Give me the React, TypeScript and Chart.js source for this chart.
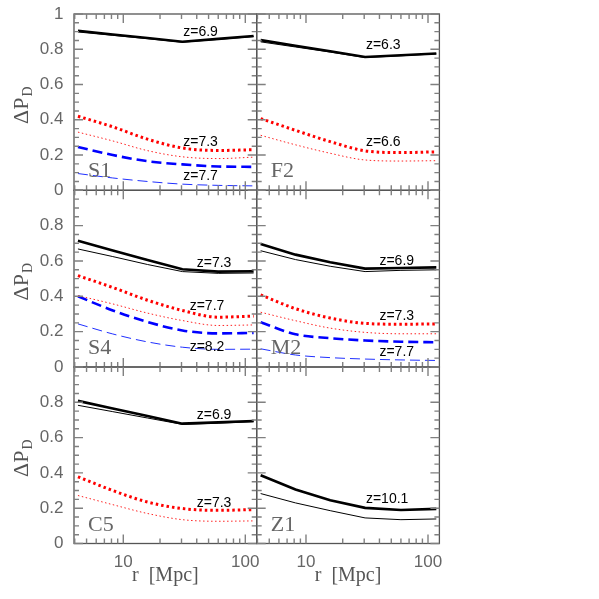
import React, { useEffect, useRef } from "react";
import { Chart, registerables } from "chart.js";
Chart.register(...registerables);

// ---------- data ----------
const R = [4.25, 8.2, 15.8, 30.5, 60, 117];
const X_MIN = 3.945;
const X_MAX = 124;
const X_TICK_LABELS = [10, 100];
const X_MINOR = [4, 5, 6, 7, 8, 9, 20, 30, 40, 50, 60, 70, 80, 90];
const X_MAJOR = [10, 100];
const Y_TICKS = [0, 0.2, 0.4, 0.6, 0.8, 1];

const S1_thickSolid = [0.905, 0.884, 0.864, 0.843, 0.859, 0.875];
const S1_thinSolid = [0.898, 0.879, 0.86, 0.84, 0.856, 0.872];
const S1_thickDot = [0.42, 0.36, 0.29, 0.24, 0.226, 0.23];
const S1_thinDot = [0.33, 0.28, 0.225, 0.19, 0.18, 0.188];
const S1_thickDash = [0.246, 0.2, 0.165, 0.147, 0.135, 0.133];
const S1_thinDash = [0.095, 0.07, 0.05, 0.035, 0.028, 0.025];

const F2_thickSolid = [0.852, 0.82, 0.789, 0.756, 0.766, 0.776];
const F2_thinSolid = [0.842, 0.813, 0.784, 0.753, 0.763, 0.774];
const F2_thickDot = [0.407, 0.34, 0.276, 0.224, 0.214, 0.218];
const F2_thinDot = [0.312, 0.258, 0.21, 0.172, 0.166, 0.168];

const S4_thickSolid = [0.715, 0.66, 0.605, 0.553, 0.54, 0.542];
const S4_thinSolid = [0.668, 0.625, 0.58, 0.54, 0.53, 0.532];
const S4_thickDot = [0.517, 0.45, 0.378, 0.32, 0.282, 0.288];
const S4_thinDot = [0.404, 0.357, 0.305, 0.263, 0.235, 0.238];
const S4_thickDash = [0.4, 0.32, 0.255, 0.207, 0.19, 0.193];
const S4_thinDash = [0.244, 0.187, 0.142, 0.112, 0.1, 0.101];

const M2_thickSolid = [0.696, 0.636, 0.593, 0.557, 0.56, 0.564];
const M2_thinSolid = [0.658, 0.608, 0.57, 0.54, 0.547, 0.55];
const M2_thickDot = [0.408, 0.33, 0.277, 0.247, 0.242, 0.244];
const M2_thinDot = [0.31, 0.262, 0.22, 0.196, 0.188, 0.188];
const M2_thickDash = [0.253, 0.185, 0.163, 0.15, 0.143, 0.14];
const M2_thinDash = [0.103, 0.068, 0.053, 0.045, 0.04, 0.037];

const C5_thickSolid = [0.808, 0.765, 0.722, 0.679, 0.686, 0.694];
const C5_thinSolid = [0.783, 0.747, 0.711, 0.675, 0.682, 0.69];
const C5_thickDot = [0.378, 0.3, 0.235, 0.198, 0.188, 0.192];
const C5_thinDot = [0.272, 0.22, 0.17, 0.135, 0.126, 0.128];

const Z1_thickSolid = [0.387, 0.306, 0.245, 0.202, 0.19, 0.196];
const Z1_thinSolid = [0.283, 0.23, 0.186, 0.145, 0.135, 0.139];

const S1_notes = [
  { text: "z=6.9", x: 31, y: 0.875 },
  { text: "z=7.3", x: 31, y: 0.25 },
  { text: "z=7.7", x: 31, y: 0.06 },
];
const F2_notes = [
  { text: "z=6.3", x: 31, y: 0.8 },
  { text: "z=6.6", x: 31, y: 0.25 },
];
const S4_notes = [
  { text: "z=7.3", x: 40, y: 0.564 },
  { text: "z=7.7", x: 35, y: 0.325 },
  { text: "z=8.2", x: 35, y: 0.089 },
];
const M2_notes = [
  { text: "z=6.9", x: 40, y: 0.579 },
  { text: "z=7.3", x: 40, y: 0.268 },
  { text: "z=7.7", x: 40, y: 0.061 },
];
const C5_notes = [
  { text: "z=6.9", x: 40, y: 0.703 },
  { text: "z=7.3", x: 40, y: 0.207 },
];
const Z1_notes = [{ text: "z=10.1", x: 31, y: 0.23 }];

// ---------- styles / layout ----------
const STYLE: Record<string, any> = {
  thickSolid: { color: "#000000", width: 2.6, dash: [], mode: "default" },
  thinSolid: { color: "#000000", width: 1, dash: [], mode: "default" },
  thickDot: { color: "#ff0000", width: 3, dash: [2.5, 3], mode: "monotone" },
  thinDot: { color: "#ff2020", width: 1, dash: [1.5, 2.5], mode: "monotone" },
  thickDash: { color: "#0000ff", width: 2.6, dash: [10, 5], mode: "monotone" },
  thinDash: { color: "#2030ff", width: 1, dash: [10, 5], mode: "monotone" },
};

const COL_X = [74, 256.7, 439.4];
const ROW_Y = [14, 190.3, 367, 543.5];

const PANELS = [
  { name: "S1", col: 0, row: 0, notes: S1_notes, series: { thickSolid: S1_thickSolid, thinSolid: S1_thinSolid, thickDot: S1_thickDot, thinDot: S1_thinDot, thickDash: S1_thickDash, thinDash: S1_thinDash } },
  { name: "F2", col: 1, row: 0, notes: F2_notes, series: { thickSolid: F2_thickSolid, thinSolid: F2_thinSolid, thickDot: F2_thickDot, thinDot: F2_thinDot } },
  { name: "S4", col: 0, row: 1, notes: S4_notes, series: { thickSolid: S4_thickSolid, thinSolid: S4_thinSolid, thickDot: S4_thickDot, thinDot: S4_thinDot, thickDash: S4_thickDash, thinDash: S4_thinDash } },
  { name: "M2", col: 1, row: 1, notes: M2_notes, series: { thickSolid: M2_thickSolid, thinSolid: M2_thinSolid, thickDot: M2_thickDot, thinDot: M2_thinDot, thickDash: M2_thickDash, thinDash: M2_thinDash } },
  { name: "C5", col: 0, row: 2, notes: C5_notes, series: { thickSolid: C5_thickSolid, thinSolid: C5_thinSolid, thickDot: C5_thickDot, thinDot: C5_thinDot } },
  { name: "Z1", col: 1, row: 2, notes: Z1_notes, series: { thickSolid: Z1_thickSolid, thinSolid: Z1_thinSolid } },
];

const fmt = (v: number) => {
  const r = Math.round(v * 10) / 10;
  return String(r);
};

function makeDecor(panel: any) {
  return {
    id: "panelDecor",
    afterDraw(chart: any) {
      const { ctx, chartArea: a, scales } = chart;
      const xs = scales.x;
      const ys = scales.y;
      ctx.save();
      // frame
      ctx.strokeStyle = "#555";
      ctx.lineWidth = 1.3;
      ctx.setLineDash([]);
      ctx.strokeRect(a.left, a.top, a.right - a.left, a.bottom - a.top);
      // ticks
      ctx.strokeStyle = "#808080";
      ctx.lineWidth = 1.4;
      ctx.beginPath();
      const xt = (vals: number[], len: number) => {
        for (const v of vals) {
          const p = xs.getPixelForValue(v);
          if (p < a.left || p > a.right) continue;
          ctx.moveTo(p, a.bottom);
          ctx.lineTo(p, a.bottom - len);
          ctx.moveTo(p, a.top);
          ctx.lineTo(p, a.top + len);
        }
      };
      xt(X_MINOR, 5);
      xt(X_MAJOR, 9);
      for (let i = 0; i <= 20; i++) {
        const v = i * 0.05;
        const len = i % 4 === 0 ? 9 : 5;
        const p = ys.getPixelForValue(v);
        ctx.moveTo(a.left, p);
        ctx.lineTo(a.left + len, p);
        ctx.moveTo(a.right, p);
        ctx.lineTo(a.right - len, p);
      }
      ctx.stroke();
      // annotations
      ctx.fillStyle = "#000";
      ctx.font = "14px 'Liberation Sans', Arial, sans-serif";
      ctx.textAlign = "left";
      ctx.textBaseline = "alphabetic";
      for (const n of panel.notes) {
        ctx.fillText(n.text, xs.getPixelForValue(n.x), ys.getPixelForValue(n.y));
      }
      // panel name
      ctx.fillStyle = "#666";
      ctx.font = "22px 'Liberation Serif', serif";
      ctx.fillText(panel.name, a.left + 14, a.bottom - 13);
      // y title
      if (panel.col === 0) {
        const cy = (a.top + a.bottom) / 2 + 3;
        ctx.save();
        ctx.translate(28, cy);
        ctx.rotate(-Math.PI / 2);
        ctx.fillStyle = "#555";
        ctx.font = "22px 'Liberation Serif', serif";
        const main = "\u0394P";
        const w1 = ctx.measureText(main).width;
        ctx.font = "14px 'Liberation Serif', serif";
        const w2 = ctx.measureText("D").width;
        const start = -(w1 + w2 + 1) / 2;
        ctx.font = "22px 'Liberation Serif', serif";
        ctx.fillText(main, start, 0);
        ctx.font = "14px 'Liberation Serif', serif";
        ctx.fillText("D", start + w1 + 1, 4);
        ctx.restore();
      }
      // x title
      if (panel.row === 2) {
        ctx.fillStyle = "#555";
        ctx.font = "20px 'Liberation Serif', serif";
        ctx.textAlign = "center";
        ctx.fillText("r  [Mpc]", (a.left + a.right) / 2, 581);
      }
      ctx.restore();
    },
  };
}

const zeroPad = (s: any) => {
  s.paddingTop = 0;
  s.paddingBottom = 0;
  s.paddingLeft = 0;
  s.paddingRight = 0;
};

function Panel({ panel }: { panel: any }) {
  const ref = useRef<HTMLCanvasElement>(null);
  useEffect(() => {
    const datasets = Object.keys(panel.series).map((key) => {
      const st = STYLE[key];
      const vals: number[] = panel.series[key];
      return {
        label: panel.name + " " + key,
        data: R.map((x, i) => ({ x, y: vals[i] })),
        borderColor: st.color,
        borderWidth: st.width,
        borderDash: st.dash,
        cubicInterpolationMode: st.mode,
        pointRadius: 0,
        fill: false,
        tension: 0,
      };
    });
    const showY = panel.col === 0;
    const showX = panel.row === 2;
    const left = COL_X[panel.col];
    const bottom = 599 - ROW_Y[panel.row + 1];
    const chart = new Chart(ref.current as HTMLCanvasElement, {
      type: "line",
      data: { datasets },
      options: {
        animation: false,
        responsive: false,
        events: [],
        layout: {
          padding: {
            left: showY ? 0 : left,
            right: 599 - COL_X[panel.col + 1],
            top: ROW_Y[panel.row],
            bottom: showX ? 0 : bottom,
          },
        },
        plugins: { legend: { display: false }, tooltip: { enabled: false } },
        scales: {
          x: {
            type: "logarithmic",
            min: X_MIN,
            max: X_MAX,
            display: showX,
            grid: { display: false, drawTicks: false },
            border: { display: false },
            ticks: {
              font: { family: "'Liberation Sans', Arial, sans-serif", size: 17 },
              color: "#666",
              padding: 9,
              maxRotation: 0,
              autoSkip: false,
              callback: (v: any) => String(v),
            },
            afterBuildTicks: (s: any) => {
              s.ticks = X_TICK_LABELS.map((v) => ({ value: v }));
            },
            afterFit: (s: any) => {
              s.height = showX ? bottom : 0;
              zeroPad(s);
            },
          },
          y: {
            type: "linear",
            min: 0,
            max: 1,
            display: showY,
            grid: { display: false, drawTicks: false },
            border: { display: false },
            ticks: {
              font: { family: "'Liberation Sans', Arial, sans-serif", size: 17 },
              color: "#666",
              padding: 10.5,
              autoSkip: false,
              callback: (v: any) => (panel.row > 0 && v >= 0.999 ? "" : fmt(v)),
            },
            afterBuildTicks: (s: any) => {
              s.ticks = Y_TICKS.map((v) => ({ value: v }));
            },
            afterFit: (s: any) => {
              s.width = showY ? left : 0;
              zeroPad(s);
            },
          },
        },
      },
      plugins: [makeDecor(panel)],
    } as any);
    return () => chart.destroy();
  }, []);
  return (
    <canvas
      ref={ref}
      width={599}
      height={599}
      style={{ position: "absolute", left: 0, top: 0 }}
    />
  );
}

export default function App() {
  return (
    <div
      style={{
        position: "fixed",
        left: 0,
        top: 0,
        width: 599,
        height: 599,
        background: "#ffffff",
      }}
    >
      {PANELS.map((p) => (
        <Panel key={p.name} panel={p} />
      ))}
    </div>
  );
}
